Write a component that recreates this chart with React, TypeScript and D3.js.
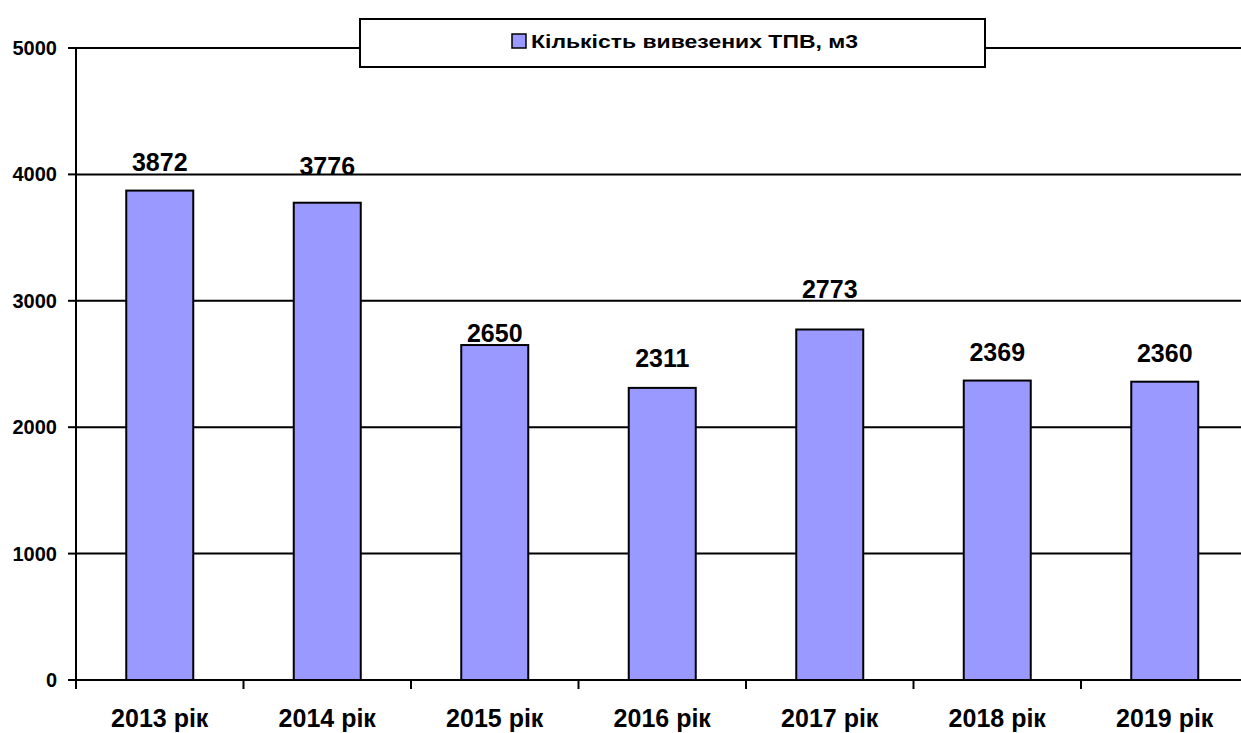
import React from "react";
import * as d3 from "d3";

const categories = ["2013 рік", "2014 рік", "2015 рік", "2016 рік", "2017 рік", "2018 рік", "2019 рік"];
const values = [3872, 3776, 2650, 2311, 2773, 2369, 2360];
const yTicks = [0, 1000, 2000, 3000, 4000, 5000];
const seriesName = "Кількість вивезених ТПВ, м3";
// vertical lift (px) of each value label above its bar, as placed in the original
const labelLift = [20, 28, 3, 21, 31, 20, 20];

const W = 1241;
const H = 733;
const left = 76;
const band = 167.5;
const top = 48;
const bottom = 680;
const FONT = "'Liberation Sans', Arial, Helvetica, sans-serif";
const FILL = "#9999FF";

export default function App() {
  const x = d3
    .scaleBand<string>()
    .domain(categories)
    .range([left, left + band * categories.length])
    .paddingInner(0)
    .paddingOuter(0);
  const y = d3.scaleLinear().domain([0, 5000]).range([bottom, top]);
  const right = left + band * categories.length;
  const bw = x.bandwidth() * 0.4;
  const boundaries = d3.range(categories.length + 1).map((i) => left + i * x.bandwidth());

  return (
    <svg
      width={W}
      height={H}
      style={{ position: "absolute", left: 0, top: 0, background: "#fff" }}
      fontFamily={FONT}
    >
      <rect x={0} y={0} width={W} height={H} fill="#fff" />
      {/* gridlines */}
      {yTicks.filter((t) => t > 0).map((t) => (
        <line key={"g" + t} x1={left} x2={right} y1={y(t)} y2={y(t)} stroke="#000" strokeWidth={2} />
      ))}
      {/* y tick marks and labels */}
      {yTicks.map((t) => (
        <g key={"y" + t}>
          <line x1={left - 8} x2={left} y1={y(t)} y2={y(t)} stroke="#000" strokeWidth={2} />
          <text
            x={57}
            y={y(t)}
            dy="0.35em"
            textAnchor="end"
            fontSize={20}
            fontWeight="bold"
            fill="#000"
          >
            {t}
          </text>
        </g>
      ))}
      {/* bars */}
      {categories.map((c, i) => {
        const cx = (x(c) as number) + x.bandwidth() / 2;
        return (
          <g key={c}>
            <rect
              x={cx - bw / 2}
              y={y(values[i])}
              width={bw}
              height={y(0) - y(values[i])}
              fill={FILL}
              stroke="#000"
              strokeWidth={2}
            />
            <text
              x={cx}
              y={y(values[i]) - labelLift[i]}
              textAnchor="middle"
              fontSize={25}
              fontWeight="bold"
              fill="#000"
            >
              {values[i]}
            </text>
            <text x={cx} y={727} textAnchor="middle" fontSize={25} fontWeight="bold" fill="#000">
              {c}
            </text>
          </g>
        );
      })}
      {/* axes */}
      <line x1={left} x2={left} y1={top} y2={bottom} stroke="#000" strokeWidth={2} />
      <line x1={left} x2={right} y1={bottom} y2={bottom} stroke="#000" strokeWidth={2} />
      {boundaries.map((bx, i) => (
        <line key={"t" + i} x1={bx} x2={bx} y1={bottom} y2={bottom + 9} stroke="#000" strokeWidth={2} />
      ))}
      {/* legend */}
      <rect x={360} y={19} width={625} height={48} fill="#fff" stroke="#000" strokeWidth={2} />
      <rect x={512} y={34} width={14} height={14} fill={FILL} stroke="#000" strokeWidth={1.5} />
      <text
        x={531}
        y={48}
        fontSize={19}
        fontWeight="bold"
        fill="#000"
        textLength={327}
        lengthAdjust="spacingAndGlyphs"
      >
        {seriesName}
      </text>
    </svg>
  );
}
